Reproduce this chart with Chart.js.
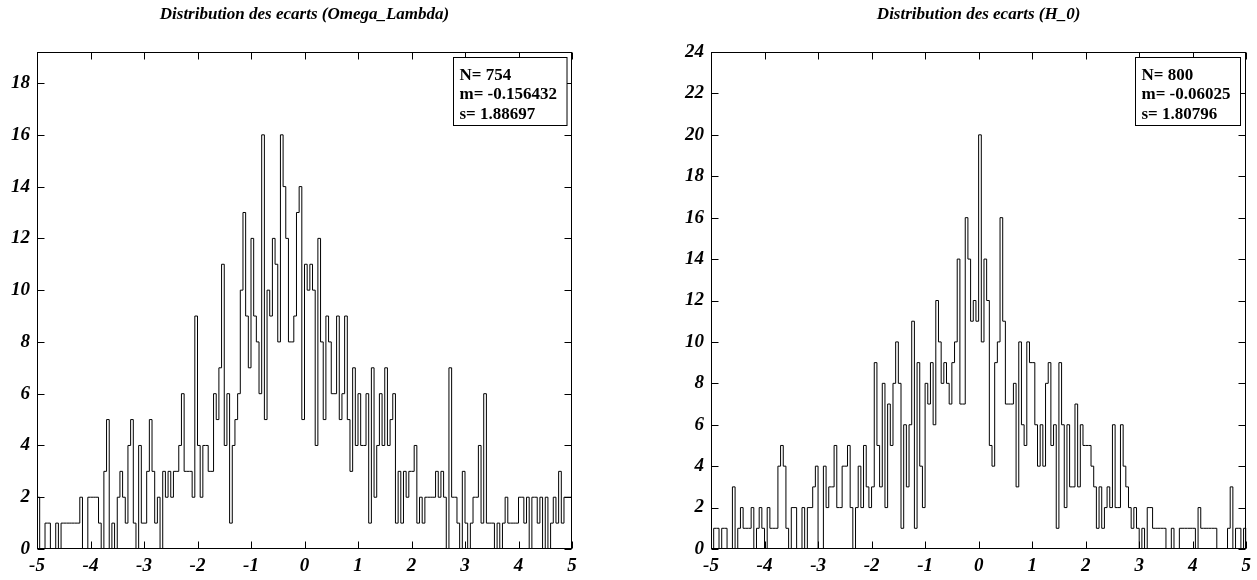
<!DOCTYPE html>
<html>
<head>
<meta charset="utf-8">
<script src="https://cdn.jsdelivr.net/npm/chart.js@4.4.1/dist/chart.umd.min.js"></script>
<style>
  html, body { margin: 0; padding: 0; background: #fff; }
  #wrap { position: relative; width: 1257px; height: 580px; }
  .panel { position: absolute; top: 0; height: 580px; }
</style>
</head>
<body>
<div id="wrap">
  <div class="panel" style="left:0;width:628px"><canvas id="omega" width="628" height="580"></canvas></div>
  <div class="panel" style="left:628px;width:629px"><canvas id="h0" width="629" height="580"></canvas></div>
</div>
<script>
// histogram range / binning (200 bins of 0.05)
const xMin = -5;
const xMax = 5;
const binWidth = 0.05;

const xTicks = [-5, -4, -3, -2, -1, 0, 1, 2, 3, 4, 5];
const yTicksOmega = [0, 2, 4, 6, 8, 10, 12, 14, 16, 18];
const yTicksH0 = [0, 2, 4, 6, 8, 10, 12, 14, 16, 18, 20, 22, 24];

// counts, one per bin from -5 to 5
const countsOmega = [
  2, 0, 0, 1, 1, 0, 0, 1, 0, 1,
  1, 1, 1, 1, 1, 1, 2, 0, 0, 2,
  2, 2, 2, 1, 0, 3, 5, 0, 1, 0,
  2, 3, 2, 1, 4, 5, 1, 0, 4, 1,
  1, 3, 5, 3, 1, 2, 0, 3, 2, 3,
  2, 3, 3, 4, 6, 3, 3, 3, 2, 9,
  4, 2, 4, 4, 3, 3, 6, 5, 7, 11,
  4, 6, 1, 4, 5, 6, 10, 13, 9, 7,
  12, 9, 8, 6, 16, 5, 10, 9, 12, 11,
  8, 16, 14, 12, 8, 8, 9, 13, 14, 5,
  11, 10, 11, 10, 4, 12, 8, 5, 9, 8,
  6, 6, 9, 5, 6, 9, 5, 3, 7, 4,
  6, 4, 4, 6, 1, 7, 2, 4, 6, 4,
  7, 4, 5, 6, 1, 3, 1, 3, 2, 3,
  3, 4, 1, 2, 1, 2, 2, 2, 2, 3,
  2, 3, 2, 0, 7, 2, 2, 1, 0, 3,
  1, 0, 1, 2, 2, 4, 1, 6, 1, 1,
  1, 0, 1, 0, 1, 2, 1, 1, 1, 1,
  2, 2, 1, 2, 0, 2, 2, 1, 2, 0,
  2, 0, 1, 2, 1, 3, 1, 2, 2, 2
];

const countsH0 = [
  0, 1, 1, 0, 1, 1, 0, 0, 3, 0,
  1, 2, 1, 1, 1, 2, 0, 1, 2, 1,
  0, 2, 1, 1, 1, 4, 5, 4, 1, 0,
  2, 2, 0, 0, 2, 0, 2, 2, 3, 4,
  0, 0, 4, 2, 3, 3, 5, 2, 2, 4,
  4, 5, 2, 0, 2, 4, 2, 5, 3, 2,
  3, 9, 5, 3, 8, 2, 7, 5, 8, 10,
  8, 1, 6, 3, 6, 11, 1, 9, 4, 2,
  8, 7, 9, 6, 12, 10, 8, 9, 8, 7,
  9, 10, 14, 7, 7, 16, 14, 11, 12, 11,
  20, 10, 14, 12, 5, 4, 9, 10, 16, 11,
  7, 7, 7, 8, 3, 10, 6, 5, 10, 9,
  9, 6, 4, 6, 4, 8, 9, 5, 6, 1,
  9, 6, 2, 6, 3, 3, 7, 3, 6, 5,
  5, 5, 4, 3, 1, 3, 1, 2, 3, 2,
  6, 2, 2, 6, 4, 3, 2, 1, 2, 1,
  0, 1, 0, 2, 2, 1, 1, 1, 1, 1,
  0, 0, 1, 0, 0, 1, 1, 1, 1, 1,
  1, 0, 2, 1, 1, 1, 1, 1, 1, 0,
  0, 0, 0, 1, 3, 0, 1, 1, 0, 1
];

const statsOmega = ['N= 754', 'm= -0.156432', 's= 1.88697'];
const statsH0 = ['N= 800', 'm= -0.06025', 's= 1.80796'];

const tickFont = { family: 'Liberation Serif', size: 19, style: 'italic', weight: 'bold' };

// left edges of bins + closing point, for a step-before line
function histPoints(counts) {
  let pts = [{ x: xMin, y: 0 }];
  counts.forEach((c, i) => pts.push({ x: xMin + i * binWidth, y: c }));
  pts.push({ x: xMax, y: 0 });
  return pts;
}

// frame, inward ticks, title and stats box
const framePlugin = {
  id: 'frame',
  afterDraw(chart, args, opts) {
    const { ctx, chartArea: a, scales: { x, y } } = chart;
    const L = Math.round(a.left) + 0.5, R = Math.round(a.right) - 0.5;
    const T = Math.round(a.top) + 0.5, B = Math.round(a.bottom) - 0.5;
    const tl = 7;
    ctx.save();
    ctx.strokeStyle = '#000';
    ctx.lineWidth = 1;
    ctx.beginPath();
    xTicks.forEach(v => {
      const px = Math.round(x.getPixelForValue(v)) + 0.5;
      ctx.moveTo(px, B); ctx.lineTo(px, B - tl);
      ctx.moveTo(px, T); ctx.lineTo(px, T + tl);
    });
    opts.yTicks.forEach(v => {
      const py = Math.round(y.getPixelForValue(v)) + 0.5;
      ctx.moveTo(L, py); ctx.lineTo(L + tl, py);
      ctx.moveTo(R, py); ctx.lineTo(R - tl, py);
    });
    ctx.stroke();
    ctx.strokeRect(L, T, R - L, B - T);

    ctx.fillStyle = '#000';
    ctx.font = 'italic bold 17px "Liberation Serif"';
    ctx.textAlign = 'center';
    ctx.textBaseline = 'middle';
    ctx.fillText(opts.title, (a.left + a.right) / 2, 15);

    // stats box
    ctx.font = 'bold 17px "Liberation Serif"';
    ctx.textAlign = 'left';
    ctx.textBaseline = 'alphabetic';
    const w = Math.max(...opts.stats.map(s => ctx.measureText(s).width)) + 16;
    const bx = Math.round(R - 5 - w) + 0.5, by = T + 5, bh = 68;
    ctx.fillStyle = '#fff';
    ctx.fillRect(bx, by, w, bh);
    ctx.strokeRect(bx, by, w, bh);
    ctx.fillStyle = '#000';
    opts.stats.forEach((s, i) => ctx.fillText(s, bx + 6, by + 22 + i * 19.5));
    ctx.restore();
  }
};

function makeChart(id, counts, yMax, yTicks, title, stats, padRight, yWidth) {
  return new Chart(document.getElementById(id), {
    type: 'line',
    data: {
      datasets: [{
        data: histPoints(counts),
        stepped: 'before',
        borderColor: '#000',
        borderWidth: 1,
        pointRadius: 0,
        fill: false
      }]
    },
    options: {
      responsive: false,
      animation: false,
      layout: { padding: { left: 0, top: 52, right: padRight, bottom: 0 } },
      plugins: {
        legend: { display: false },
        tooltip: { enabled: false },
        frame: { title: title, stats: stats, yTicks: yTicks }
      },
      scales: {
        x: {
          type: 'linear',
          min: xMin,
          max: xMax,
          grid: { display: false, drawTicks: false },
          border: { display: false },
          afterBuildTicks: s => { s.ticks = xTicks.map(v => ({ value: v })); },
          afterFit: s => { s.height = 31; },
          ticks: { font: tickFont, color: '#000', padding: 6, maxRotation: 0, autoSkip: false }
        },
        y: {
          min: 0,
          max: yMax,
          grid: { display: false, drawTicks: false },
          border: { display: false },
          afterBuildTicks: s => { s.ticks = yTicks.map(v => ({ value: v })); },
          afterFit: s => { s.width = yWidth; },
          ticks: { font: tickFont, color: '#000', padding: 7 }
        }
      }
    },
    plugins: [framePlugin]
  });
}

makeChart('omega', countsOmega, 19.2, yTicksOmega, 'Distribution des ecarts (Omega_Lambda)', statsOmega, 56, 37);
makeChart('h0', countsH0, 24, yTicksH0, 'Distribution des ecarts (H_0)', statsH0, 10, 83);
</script>
</body>
</html>
